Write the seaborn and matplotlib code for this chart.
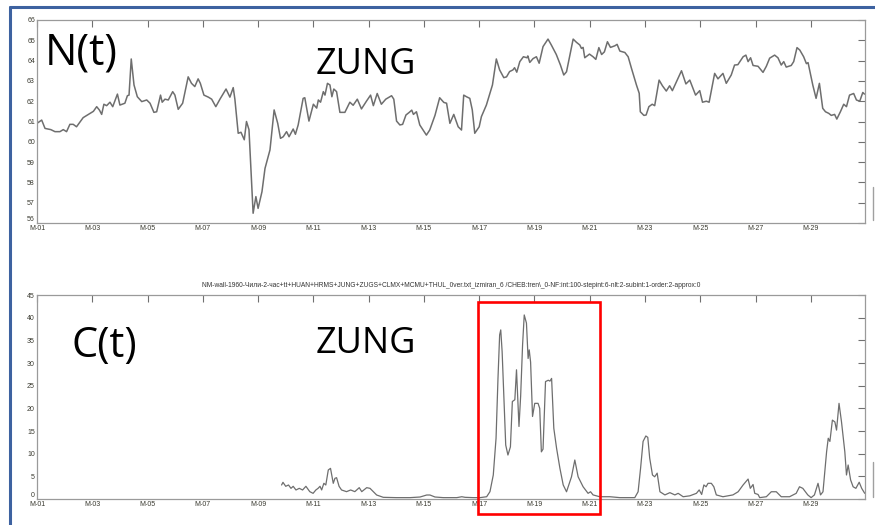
import numpy as np
import pandas as pd
import matplotlib
matplotlib.use("Agg")
import matplotlib.pyplot as plt
from matplotlib.lines import Line2D
from matplotlib.patches import Rectangle
import seaborn as sns

# ---- neutron monitor count rate N(t), station ZUNG ----
n_day = [1.00, 1.17, 1.29, 1.50, 1.65, 1.83, 1.95, 2.07, 2.19, 2.31, 2.43, 2.67, 2.92, 3.04,
         3.16, 3.26, 3.34, 3.42, 3.52, 3.64, 3.74, 3.91, 4.00, 4.18, 4.27, 4.33, 4.41, 4.51,
         4.63, 4.79, 4.97, 5.09, 5.23, 5.33, 5.47, 5.53, 5.63, 5.75, 5.91, 5.99, 6.11, 6.27,
         6.47, 6.59, 6.71, 6.83, 6.91, 7.04, 7.20, 7.32, 7.47, 7.62, 7.84, 7.98, 8.10, 8.16,
         8.28, 8.38, 8.50, 8.58, 8.67, 8.74, 8.82, 8.92, 9.00, 9.14, 9.25, 9.43, 9.58, 9.71,
         9.81, 9.91, 10.03, 10.12, 10.27, 10.35, 10.45, 10.63, 10.69, 10.84, 11.00, 11.12,
         11.18, 11.26, 11.36, 11.42, 11.51, 11.60, 11.67, 11.74, 11.84, 11.96, 12.14, 12.32,
         12.44, 12.59, 12.74, 12.92, 13.07, 13.17, 13.31, 13.46, 13.62, 13.83, 13.91, 14.01,
         14.13, 14.23, 14.35, 14.47, 14.56, 14.62, 14.73, 14.85, 15.09, 15.21, 15.40, 15.57,
         15.72, 15.82, 15.94, 16.08, 16.24, 16.36, 16.44, 16.54, 16.66, 16.75, 16.84, 17.00,
         17.08, 17.26, 17.48, 17.62, 17.74, 17.89, 17.99, 18.10, 18.22, 18.28, 18.36, 18.47,
         18.60, 18.73, 18.76, 18.83, 18.95, 19.07, 19.17, 19.31, 19.49, 19.61, 19.79, 19.94,
         20.06, 20.16, 20.40, 20.52, 20.64, 20.70, 20.76, 20.82, 20.99, 21.12, 21.22, 21.33,
         21.43, 21.53, 21.64, 21.75, 21.91, 21.99, 22.09, 22.27, 22.39, 22.51, 22.69, 22.79,
         22.83, 22.96, 23.04, 23.14, 23.26, 23.35, 23.51, 23.63, 23.77, 23.89, 23.99, 24.14,
         24.32, 24.48, 24.62, 24.83, 24.98, 25.08, 25.22, 25.32, 25.52, 25.64, 25.82, 25.94,
         26.12, 26.24, 26.36, 26.55, 26.65, 26.73, 26.82, 26.91, 27.09, 27.27, 27.39, 27.51,
         27.69, 27.81, 27.93, 28.02, 28.11, 28.29, 28.38, 28.50, 28.60, 28.74, 28.84, 28.90,
         29.07, 29.19, 29.31, 29.43, 29.53, 29.65, 29.74, 29.86, 29.94, 30.07, 30.19, 30.29,
         30.40, 30.55, 30.65, 30.77, 30.88, 30.94]
n_val = [60.91, 61.07, 60.66, 60.60, 60.50, 60.50, 60.60, 60.50, 60.86, 60.86, 60.74, 61.19,
         61.40, 61.50, 61.73, 61.56, 61.35, 61.85, 61.78, 61.95, 61.73, 62.35, 61.81, 61.90,
         62.27, 62.30, 64.08, 62.80, 62.22, 61.98, 62.06, 61.90, 61.45, 61.48, 62.30, 61.95,
         62.10, 62.06, 62.47, 62.30, 61.60, 61.90, 63.20, 62.88, 62.72, 63.10, 62.88, 62.30,
         62.20, 62.10, 61.73, 62.10, 62.60, 62.20, 62.67, 62.10, 60.42, 60.47, 60.10, 61.00,
         60.60, 58.69, 56.48, 57.30, 56.72, 57.54, 58.69, 59.60, 61.57, 60.91, 60.17, 60.25,
         60.50, 60.25, 60.63, 60.37, 60.83, 62.14, 62.17, 61.02, 61.85, 61.66, 62.06, 61.95,
         62.47, 62.30, 62.88, 62.80, 62.22, 62.60, 62.47, 61.45, 61.45, 61.95, 61.80, 62.10,
         61.62, 62.00, 62.30, 61.78, 62.38, 61.85, 62.10, 62.27, 62.10, 61.02, 60.83, 60.86,
         61.32, 61.45, 61.56, 61.35, 61.48, 60.83, 60.33, 60.58, 61.30, 62.17, 61.94, 61.90,
         60.91, 61.35, 60.74, 60.58, 62.30, 62.22, 62.14, 61.57, 60.42, 60.74, 61.24, 61.81,
         62.80, 64.08, 63.54, 63.16, 63.20, 63.46, 63.54, 63.65, 63.43, 63.95, 64.19, 64.14,
         64.23, 63.91, 64.10, 64.19, 63.87, 64.69, 65.06, 64.77, 64.30, 63.78, 63.29, 63.45,
         65.06, 64.90, 64.77, 64.60, 64.65, 64.14, 64.32, 64.19, 64.06, 64.64, 64.30, 64.43,
         64.93, 64.65, 64.73, 64.80, 64.47, 64.40, 64.19, 63.62, 62.80, 62.39, 61.48, 61.30,
         61.32, 61.73, 61.85, 61.78, 63.04, 62.76, 62.50, 62.76, 62.52, 62.96, 63.50, 62.85,
         63.04, 62.30, 62.52, 61.95, 62.00, 61.95, 63.37, 63.10, 63.37, 62.88, 63.29, 63.78,
         63.80, 64.19, 64.27, 63.95, 64.14, 63.76, 63.72, 63.42, 63.72, 64.12, 64.27, 64.14,
         63.78, 63.95, 63.68, 63.76, 63.95, 64.64, 64.52, 64.19, 63.85, 63.90, 62.80, 62.14,
         62.88, 61.65, 61.48, 61.40, 61.30, 61.35, 61.12, 61.48, 61.85, 61.73, 62.30, 62.38,
         62.06, 62.00, 62.43, 62.35]

# ---- coefficient C(t), station ZUNG ----
c_day = [9.85, 9.90, 10.00, 10.10, 10.19, 10.27, 10.37, 10.49, 10.61, 10.73, 10.87, 10.99,
         11.09, 11.17, 11.24, 11.30, 11.38, 11.45, 11.54, 11.62, 11.72, 11.78, 11.84, 11.93,
         12.02, 12.20, 12.35, 12.50, 12.66, 12.75, 12.93, 13.05, 13.17, 13.29, 13.53, 14.00,
         14.50, 14.86, 15.10, 15.22, 15.40, 15.70, 16.19, 16.37, 16.49, 16.79, 17.03, 17.27,
         17.39, 17.51, 17.61, 17.68, 17.74, 17.78, 17.83, 17.89, 17.96, 18.04, 18.13, 18.20,
         18.29, 18.35, 18.39, 18.44, 18.50, 18.57, 18.63, 18.71, 18.77, 18.81, 18.86, 18.93,
         19.01, 19.13, 19.19, 19.25, 19.31, 19.40, 19.50, 19.56, 19.62, 19.70, 19.80, 19.92,
         20.04, 20.16, 20.34, 20.46, 20.58, 20.76, 20.94, 21.03, 21.12, 21.36, 21.73, 22.09,
         22.63, 22.75, 22.84, 22.93, 23.03, 23.10, 23.17, 23.27, 23.35, 23.44, 23.54, 23.72,
         23.90, 24.08, 24.20, 24.38, 24.62, 24.86, 24.96, 25.05, 25.13, 25.21, 25.28, 25.40,
         25.49, 25.58, 25.82, 26.18, 26.37, 26.55, 26.73, 26.81, 26.91, 26.97, 27.09, 27.15,
         27.39, 27.57, 27.75, 27.93, 28.23, 28.47, 28.59, 28.71, 28.89, 29.01, 29.13, 29.26,
         29.35, 29.44, 29.57, 29.63, 29.69, 29.78, 29.87, 29.93, 30.02, 30.11, 30.23, 30.29,
         30.35, 30.44, 30.53, 30.63, 30.75, 30.84, 30.95]
c_val = [3.09, 3.68, 2.80, 3.09, 2.35, 2.80, 1.99, 2.35, 1.99, 2.80, 1.62, 1.25,
         1.99, 2.35, 2.80, 2.00, 3.46, 3.09, 6.40, 6.76, 3.46, 4.56, 4.70, 2.80,
         1.99, 1.62, 1.99, 1.62, 2.50, 1.62, 2.50, 2.35, 1.62, 0.88, 0.37, 0.30,
         0.30, 0.44, 0.88, 0.88, 0.44, 0.30, 0.30, 0.50, 0.37, 0.30, 0.30, 0.50,
         1.62, 5.30, 13.40, 26.60, 36.20, 37.30, 32.50, 22.90, 11.90, 9.70, 11.50, 21.50,
         21.90, 28.50, 22.70, 16.00, 22.70, 34.00, 40.60, 38.80, 31.00, 32.90, 30.20, 18.20,
         21.10, 21.10, 20.00, 10.40, 11.00, 25.90, 26.20, 26.00, 26.60, 15.60, 11.20, 6.80,
         3.10, 1.60, 4.90, 8.60, 4.90, 2.70, 1.25, 1.60, 0.90, 0.50, 0.50, 0.30,
         0.30, 1.60, 6.80, 12.70, 13.90, 13.60, 9.00, 5.30, 4.90, 5.70, 1.60, 0.90,
         1.40, 0.90, 1.25, 0.50, 0.70, 1.25, 2.00, 1.00, 3.10, 2.70, 3.46, 3.46,
         2.70, 0.90, 0.50, 0.90, 1.60, 3.10, 4.40, 2.35, 3.20, 1.25, 1.00, 0.30,
         0.50, 1.60, 1.60, 0.50, 0.50, 1.25, 2.70, 2.35, 0.90, 0.30, 0.90, 3.46,
         0.90, 1.60, 10.40, 13.40, 12.70, 17.40, 17.00, 15.20, 21.10, 17.00, 10.40, 5.30,
         7.50, 4.20, 2.70, 2.35, 3.70, 2.35, 1.25]

tick_days = [1, 3, 5, 7, 9, 11, 13, 15, 17, 19, 21, 23, 25, 27, 29]
tick_labels = ["M-01", "M-03", "M-05", "M-07", "M-09", "M-11", "M-13", "M-15",
               "M-17", "M-19", "M-21", "M-23", "M-25", "M-27", "M-29"]
n_yticks = [56, 57, 58, 59, 60, 61, 62, 63, 64, 65, 66]
c_yticks = [0, 5, 10, 15, 20, 25, 30, 35, 40, 45]

run_title = ("NM-wall-1960-Чили-2-час+tt+HUAN+HRMS+JUNG+ZUGS+CLMX+MCMU+THUL_0ver.txt_"
             "izmiran_6 /CHEB:tren\\_0-NF:int:100-stepint:6-nlt:2-subint:1-order:2-approx:0")

sns.set_style("white")
plt.rcParams["font.family"] = ["Liberation Sans", "DejaVu Sans"]

W, H = 875, 525
fig = plt.figure(figsize=(W / 100, H / 100), dpi=100)
fig.patch.set_facecolor("white")


def frac(px, py):
    return px / W, 1 - py / H


ax_n = fig.add_axes([37 / W, 1 - 223 / H, 828 / W, 203 / H])
ax_c = fig.add_axes([37 / W, 1 - 499 / H, 828 / W, 204 / H])

df_n = pd.DataFrame({"day": n_day, "N": n_val})
df_c = pd.DataFrame({"day": c_day, "C": c_val})

line_col = "#6e6e6e"
sns.lineplot(data=df_n, x="day", y="N", ax=ax_n, color=line_col, linewidth=1.1,
             estimator=None, sort=False)
sns.lineplot(data=df_c, x="day", y="C", ax=ax_c, color=line_col, linewidth=0.9,
             estimator=None, sort=False)

for ax, yt, ylim in ((ax_n, n_yticks, (56, 66)), (ax_c, c_yticks, (0, 45))):
    ax.set_xlim(1, 30.96)
    ax.set_ylim(*ylim)
    ax.set_xticks(tick_days)
    ax.set_xticklabels(tick_labels)
    ax.set_yticks(yt)
    ax.set_xlabel("")
    ax.set_ylabel("")
    ax.tick_params(direction="in", length=5, width=0.8, color="#707070",
                   labelsize=5, labelcolor="#3a3a30", pad=1.5,
                   top=True, right=True, labeltop=False, labelright=False)
    for s in ax.spines.values():
        s.set_visible(True)
        s.set_color("#9a9a9a")
        s.set_linewidth(0.9)
    ax.set_facecolor("white")
    # lowest y label sits just above the corner, clear of the first date label
    ax.get_yticklabels()[0].set_verticalalignment("bottom")

ax_c.set_title(run_title, fontsize=4.8, color="#333333", pad=6)

# large annotations
big = ["Open Sans", "DejaVu Sans"]
fig.text(*frac(45, 65), "N(t)", fontsize=31, family=big, color="black",
         va="baseline", ha="left")
fig.text(*frac(316, 74), "ZUNG", fontsize=26, family=big, color="black",
         va="baseline", ha="left")
fig.text(*frac(72, 357), "C(t)", fontsize=30, family=big, color="black",
         va="baseline", ha="left")
fig.text(*frac(316, 353), "ZUNG", fontsize=26, family=big, color="black",
         va="baseline", ha="left")

# highlighted interval on C(t)
ax_c.add_patch(Rectangle((16.95, -3.3), 4.42, 46.8, fill=False, edgecolor="#ff0000",
                         linewidth=1.9, clip_on=False, zorder=5))

# slide frame lines
fig.add_artist(Line2D([10 / W, 10 / W], [1 - 7 / H, 0], color="#3d62a0", linewidth=2.2))
fig.add_artist(Line2D([10 / W, 1], [1 - 7 / H, 1 - 7 / H], color="#3d62a0", linewidth=2.2))
fig.add_artist(Line2D([873 / W, 873 / W], [1 - 187 / H, 1 - 220 / H], color="#a0a0a0", linewidth=1))
fig.add_artist(Line2D([873 / W, 873 / W], [1 - 462 / H, 1 - 497 / H], color="#a0a0a0", linewidth=1))

fig.savefig("out.png", dpi=100, facecolor="white")
